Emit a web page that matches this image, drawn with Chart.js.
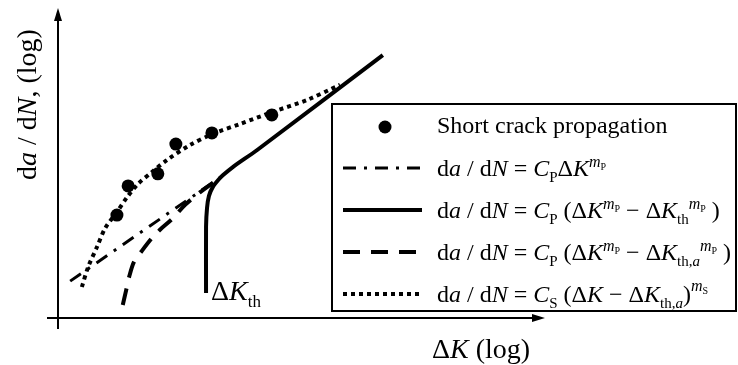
<!DOCTYPE html>
<html>
<head>
<meta charset="utf-8">
<script src="https://cdn.jsdelivr.net/npm/chart.js@4/dist/chart.umd.min.js"></script>
<style>
  body { margin: 0; background: #fff; }
  #wrap { width: 738px; height: 365px; }
</style>
</head>
<body>
<div id="wrap"><canvas id="chart" width="738" height="365"></canvas></div>
<script>
// schematic: log(dK) on x, log(da/dN) on y, arbitrary units 0..10
const shortCrackX = [1.21, 1.44, 2.05, 2.42, 3.16, 4.39];
const shortCrackY = [3.32, 4.26, 4.65, 5.61, 5.97, 6.55];

const parisX = [0.25, 3.49];
const parisY = [1.19, 4.71];

const thX = [3.04, 3.04, 3.06, 3.10, 3.18, 3.29, 3.39, 3.59, 4.09, 6.67];
const thY = [0.81, 2.94, 3.55, 3.94, 4.23, 4.45, 4.61, 4.87, 5.42, 8.48];

const thaX = [1.33, 1.40, 1.46, 1.56, 1.72, 1.93, 2.11, 2.34, 2.61, 2.92, 3.26];
const thaY = [0.42, 0.90, 1.32, 1.81, 2.16, 2.58, 2.87, 3.19, 3.65, 4.06, 4.45];

const shortFitX = [0.49, 0.62, 0.80, 0.97, 1.21, 1.42, 1.64, 1.93, 2.24, 2.71, 3.18, 3.74, 4.41, 5.11, 5.79];
const shortFitY = [1.00, 1.65, 2.29, 2.90, 3.42, 3.90, 4.32, 4.71, 5.10, 5.58, 5.94, 6.26, 6.65, 7.03, 7.52];

const FONT = '"Liberation Serif", "Times New Roman", serif';

function pts(xs, ys) {
    return xs.map((x, i) => ({ x: x, y: ys[i] }));
}

// legend rows: [text, italic, shift(px up), size]
const P = ['P', 0, -6, 15];
const mP = [['m', 1, 9, 16], ['P', 0, 6, 10]];
const lhs = [['d', 0, 0, 24], ['a', 1, 0, 24], [' / d', 0, 0, 24], ['N', 1, 0, 24], [' = ', 0, 0, 24]];
const dK = [['\u0394', 0, 0, 24], ['K', 1, 0, 24]];
const legendRows = [
    [['Short crack propagation', 0, 0, 24]],
    [...lhs, ['C', 1, 0, 24], P, ...dK, ...mP],
    [...lhs, ['C', 1, 0, 24], P, [' (', 0, 0, 24], ...dK, ...mP, [' \u2212 ', 0, 0, 24], ...dK,
        ['th', 0, -6, 15], ...mP, [' )', 0, 0, 24]],
    [...lhs, ['C', 1, 0, 24], P, [' (', 0, 0, 24], ...dK, ...mP, [' \u2212 ', 0, 0, 24], ...dK,
        ['th,', 0, -6, 15], ['a', 1, -6, 15], ...mP, [' )', 0, 0, 24]],
    [...lhs, ['C', 1, 0, 24], ['S', 0, -6, 15], [' (', 0, 0, 24], ...dK, [' \u2212 ', 0, 0, 24], ...dK,
        ['th,', 0, -6, 15], ['a', 1, -6, 15], [')', 0, 0, 24], ['m', 1, 11, 16], ['S', 0, 8, 10]]
];
const legendOrder = [0, 1, 2, 3, 4]; // dataset index for each legend row

function drawRich(ctx, x, y, runs) {
    ctx.textBaseline = 'alphabetic';
    ctx.textAlign = 'left';
    runs.forEach(r => {
        ctx.font = (r[1] ? 'italic ' : '') + r[3] + 'px ' + FONT;
        ctx.fillText(r[0], x, y - r[2]);
        x += ctx.measureText(r[0]).width;
    });
    return x;
}

const axesPlugin = {
    id: 'axesPlugin',
    afterDraw(chart) {
        const ctx = chart.ctx;
        const a = chart.chartArea;
        ctx.save();
        ctx.strokeStyle = '#000';
        ctx.fillStyle = '#000';
        ctx.lineWidth = 2;
        // y axis
        ctx.beginPath();
        ctx.moveTo(a.left, a.bottom + 11);
        ctx.lineTo(a.left, a.top + 10);
        ctx.stroke();
        ctx.beginPath();
        ctx.moveTo(a.left, a.top);
        ctx.lineTo(a.left - 4, a.top + 13);
        ctx.lineTo(a.left + 4, a.top + 13);
        ctx.closePath();
        ctx.fill();
        // x axis
        ctx.beginPath();
        ctx.moveTo(a.left - 11, a.bottom);
        ctx.lineTo(a.right - 10, a.bottom);
        ctx.stroke();
        ctx.beginPath();
        ctx.moveTo(a.right, a.bottom);
        ctx.lineTo(a.right - 13, a.bottom - 4);
        ctx.lineTo(a.right - 13, a.bottom + 4);
        ctx.closePath();
        ctx.fill();

        // axis titles
        drawRich(ctx, 432, 358, [['\u0394', 0, 0, 28], ['K', 1, 0, 28], [' (log)', 0, 0, 28]]);
        ctx.save();
        ctx.translate(36, 180);
        ctx.rotate(-Math.PI / 2);
        drawRich(ctx, 0, 0, [['d', 0, 0, 28], ['a', 1, 0, 28], [' / d', 0, 0, 28], ['N', 1, 0, 28], [', (log)', 0, 0, 28]]);
        ctx.restore();

        // threshold label
        drawRich(ctx, 211, 300, [['\u0394', 0, 0, 28], ['K', 1, 0, 28], ['th', 0, -7, 17]]);

        // legend box
        const lx = 332, ly = 104, lw = 404, lh = 207;
        ctx.fillStyle = '#fff';
        ctx.fillRect(lx, ly, lw, lh);
        ctx.strokeStyle = '#000';
        ctx.lineWidth = 2;
        ctx.strokeRect(lx, ly, lw, lh);

        const rowY = [125, 168, 210, 252, 294];
        legendOrder.forEach((di, i) => {
            const ds = chart.data.datasets[di];
            const y = rowY[i];
            if (ds.showLine) {
                ctx.save();
                ctx.strokeStyle = '#000';
                ctx.lineWidth = ds.borderWidth;
                ctx.lineCap = 'butt';
                ctx.setLineDash(ds.borderDash || []);
                ctx.beginPath();
                ctx.moveTo(343, y);
                ctx.lineTo(422, y);
                ctx.stroke();
                ctx.restore();
            } else {
                ctx.beginPath();
                ctx.arc(385, y + 2, ds.pointRadius, 0, Math.PI * 2);
                ctx.fillStyle = '#000';
                ctx.fill();
            }
            ctx.fillStyle = '#000';
            drawRich(ctx, 437, y + 8, legendRows[i]);
        });
        ctx.restore();
    }
};

new Chart(document.getElementById('chart'), {
    type: 'scatter',
    data: {
        datasets: [
            { label: 'Short crack propagation', data: pts(shortCrackX, shortCrackY),
              showLine: false, pointRadius: 6.5, pointBackgroundColor: '#000', pointBorderWidth: 0 },
            { label: 'Paris', data: pts(parisX, parisY), showLine: true, pointRadius: 0,
              borderColor: '#000', borderWidth: 3, borderDash: [13, 8, 3, 8], borderCapStyle: 'butt' },
            { label: 'th', data: pts(thX, thY), showLine: true, pointRadius: 0, tension: 0.2,
              borderColor: '#000', borderWidth: 4 },
            { label: 'th,a', data: pts(thaX, thaY), showLine: true, pointRadius: 0, tension: 0.3,
              borderColor: '#000', borderWidth: 4, borderDash: [17, 11], borderCapStyle: 'butt' },
            { label: 'short fit', data: pts(shortFitX, shortFitY), showLine: true, pointRadius: 0, tension: 0.3,
              borderColor: '#000', borderWidth: 4, borderDash: [4, 4], borderCapStyle: 'butt' }
        ]
    },
    options: {
        responsive: false,
        animation: false,
        devicePixelRatio: 1,
        layout: { padding: { left: 58, right: 193, top: 8, bottom: 47 } },
        scales: {
            x: { type: 'linear', min: 0, max: 10, display: false },
            y: { type: 'linear', min: 0, max: 10, display: false }
        },
        plugins: { legend: { display: false }, tooltip: { enabled: false } }
    },
    plugins: [axesPlugin]
});
</script>
</body>
</html>
